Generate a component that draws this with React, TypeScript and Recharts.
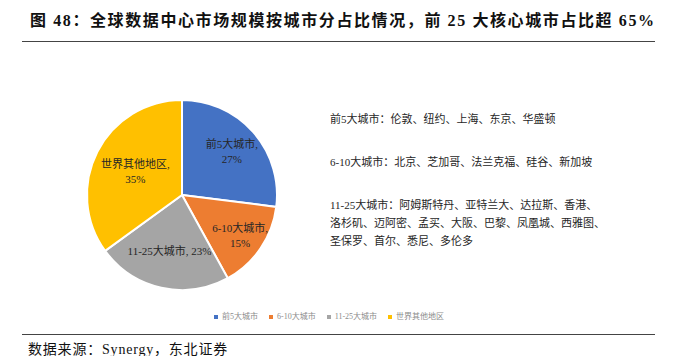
import { PieChart, Pie, Cell, Legend } from 'recharts'

const categories = ['前5大城市', '6-10大城市', '11-25大城市', '世界其他地区']
const shares = [27, 15, 23, 35]
const colors = ['#4472C4', '#ED7D31', '#A5A5A5', '#FFC000']

const notes = [
    ['前5大城市：伦敦、纽约、上海、东京、华盛顿'],
    ['6-10大城市：北京、芝加哥、法兰克福、硅谷、新加坡'],
    [
        '11-25大城市：阿姆斯特丹、亚特兰大、达拉斯、香港、',
        '洛杉矶、迈阿密、孟买、大阪、巴黎、凤凰城、西雅图、',
        '圣保罗、首尔、悉尼、多伦多',
    ],
]

const data = categories.map((name, i) => ({ name, value: shares[i] }))

const serif = '"Liberation Serif", "Times New Roman", "Noto Sans CJK SC", serif'
const RAD = Math.PI / 180

// label layout per slice: radius factor, and whether name/value go on one line
const labelR = [0.7, 0.74, 0.6, 0.55]
const oneLine = [false, false, true, false]

function renderLabel(props: any) {
    const { cx, cy, midAngle, outerRadius, index, name, value } = props
    const r = outerRadius * labelR[index]
    const x = cx + r * Math.cos(-midAngle * RAD)
    const y = cy + r * Math.sin(-midAngle * RAD)
    const common = {
        textAnchor: 'middle' as const,
        fontSize: 11,
        fontFamily: serif,
        fill: '#262626',
    }
    if (oneLine[index]) {
        return (
            <text x={x} y={y} dominantBaseline="central" {...common}>
                {`${name}, ${value}%`}
            </text>
        )
    }
    return (
        <text x={x} y={y} {...common}>
            <tspan x={x} dy={-3}>{`${name},`}</tspan>
            <tspan x={x} dy={15}>{`${value}%`}</tspan>
        </text>
    )
}

function renderLegend() {
    return (
        <div style={{ display: 'flex', fontSize: 8, lineHeight: '10px', color: '#8c8c8c' }}>
            {categories.map((c, i) => (
                <div key={c} style={{ display: 'flex', alignItems: 'center', marginRight: 11 }}>
                    <span
                        style={{
                            display: 'inline-block',
                            width: 4,
                            height: 4,
                            background: colors[i],
                            marginRight: 4,
                        }}
                    />
                    {c}
                </div>
            ))}
        </div>
    )
}

export default function App() {
    return (
        <div
            style={{
                position: 'absolute',
                left: 0,
                top: 0,
                width: 676,
                height: 356,
                background: '#fff',
                fontFamily: serif,
            }}
        >
            <div
                style={{
                    position: 'absolute',
                    left: 30,
                    top: 7,
                    fontSize: 16,
                    letterSpacing: 1.6,
                    fontWeight: 'bold',
                    color: '#111',
                    whiteSpace: 'nowrap',
                }}
            >
                图 48：全球数据中心市场规模按城市分占比情况，前 25 大核心城市占比超 65%
            </div>
            <div
                style={{
                    position: 'absolute',
                    left: 22,
                    top: 41,
                    width: 633,
                    borderTop: '1px solid #444',
                }}
            />
            <PieChart width={676} height={356} style={{ position: 'absolute', left: 0, top: 0 }}>
                <Pie
                    data={data}
                    dataKey="value"
                    nameKey="name"
                    cx={177}
                    cy={180}
                    outerRadius={95}
                    startAngle={90}
                    endAngle={-270}
                    stroke="#fff"
                    strokeWidth={2}
                    label={renderLabel}
                    labelLine={false}
                    isAnimationActive={false}
                >
                    {data.map((d, i) => (
                        <Cell key={d.name} fill={colors[i]} />
                    ))}
                </Pie>
                <Legend
                    verticalAlign="top"
                    align="left"
                    content={renderLegend}
                    wrapperStyle={{ top: 312, left: 214, width: 280 }}
                />
            </PieChart>
            <div
                style={{
                    position: 'absolute',
                    left: 330,
                    top: 110,
                    fontSize: 11,
                    color: '#262626',
                    lineHeight: '18px',
                }}
            >
                {notes.map((block, i) => (
                    <div key={i} style={{ marginBottom: 25 }}>
                        {block.map((line) => (
                            <div key={line} style={{ whiteSpace: 'nowrap' }}>
                                {line}
                            </div>
                        ))}
                    </div>
                ))}
            </div>
            <div
                style={{
                    position: 'absolute',
                    left: 22,
                    top: 334,
                    width: 633,
                    borderTop: '1px solid #444',
                }}
            />
            <div
                style={{
                    position: 'absolute',
                    left: 28,
                    top: 338,
                    fontSize: 14,
                    letterSpacing: 0.8,
                    color: '#111',
                    whiteSpace: 'nowrap',
                }}
            >
                数据来源：Synergy，东北证券
            </div>
        </div>
    )
}
